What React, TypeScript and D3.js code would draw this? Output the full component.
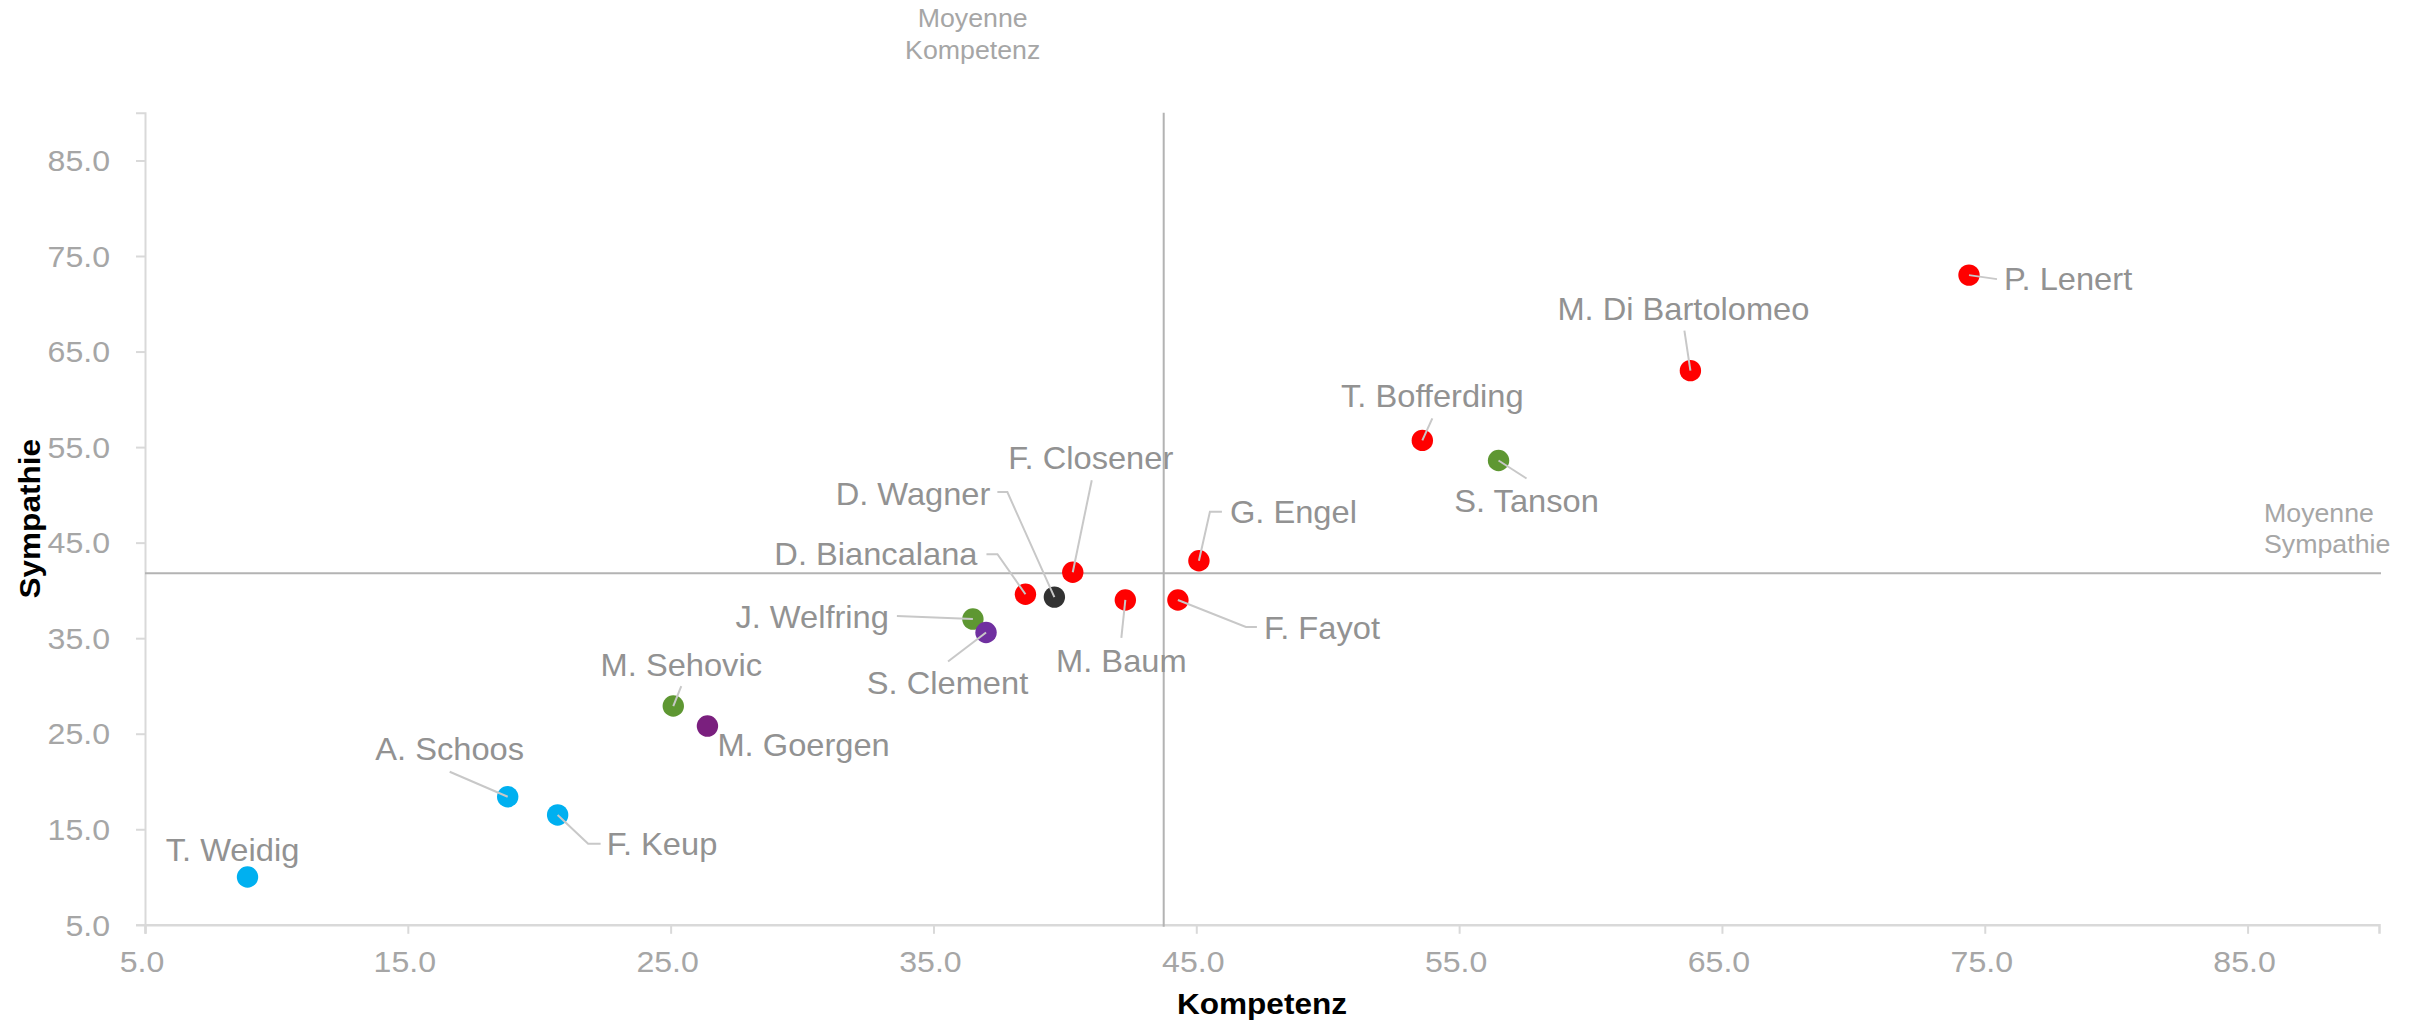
import React, { useEffect, useRef } from "react";
import * as d3 from "d3";

// Politiker, Kompetenz (x) und Sympathie (y)
const names = [
  "P. Lenert", "M. Di Bartolomeo", "T. Bofferding", "S. Tanson", "G. Engel",
  "F. Closener", "D. Wagner", "D. Biancalana", "M. Baum", "F. Fayot",
  "J. Welfring", "S. Clement", "M. Sehovic", "M. Goergen", "A. Schoos",
  "F. Keup", "T. Weidig",
];
const kompetenz = [74.4, 63.8, 53.6, 56.5, 45.1, 40.3, 39.6, 38.5, 42.3, 44.3, 36.5, 37.0, 25.1, 26.4, 18.8, 20.7, 8.9];
const sympathie = [73.0, 63.0, 55.7, 53.6, 43.1, 41.9, 39.3, 39.6, 39.0, 39.0, 37.0, 35.6, 27.9, 25.8, 18.4, 16.5, 10.0];
const groups = [
  "red", "red", "red", "green", "red", "red", "black", "red", "red", "red",
  "green", "purple", "green", "plum", "blue", "blue", "blue",
];
const groupKeys = ["red", "green", "black", "purple", "plum", "blue"];
const groupColors = ["#ff0000", "#5e9732", "#323232", "#7030a0", "#7a1f7e", "#00b0f0"];

const meanKompetenz = 43.76;
const meanSympathie = 41.8;
const tickValues = [5, 15, 25, 35, 45, 55, 65, 75, 85];

// label placement relative to each point (px): text offset, anchor, leader polyline
const labelLayout = [
  { dx: 35, dy: 15, anchor: "start", leader: [[0, 0], [28, 4]] },
  { dx: -7, dy: -51, anchor: "middle", leader: [[0, 0], [-6, -40]] },
  { dx: 10, dy: -33, anchor: "middle", leader: [[0, 0], [10, -22]] },
  { dx: 28, dy: 52, anchor: "middle", leader: [[0, 0], [28, 18]] },
  { dx: 31, dy: -37.6, anchor: "start", leader: [[0, 0], [11, -49], [23, -49]] },
  { dx: 18, dy: -103, anchor: "middle", leader: [[0, 0], [19, -92]] },
  { dx: -64, dy: -92, anchor: "end", leader: [[0, 0], [-47, -105], [-57, -105]] },
  { dx: -48, dy: -29, anchor: "end", leader: [[0, 0], [-28, -40], [-39, -40]] },
  { dx: -4, dy: 72, anchor: "middle", leader: [[0, 0], [-4, 38]] },
  { dx: 86, dy: 39, anchor: "start", leader: [[0, 0], [68, 27], [79, 27]] },
  { dx: -84, dy: 9, anchor: "end", leader: [[0, 0], [-76, -3]] },
  { dx: -38.5, dy: 62, anchor: "middle", leader: [[0, 0], [-38, 29]] },
  { dx: 8, dy: -30, anchor: "middle", leader: [[0, 0], [8, -20]] },
  { dx: 10, dy: 30, anchor: "start", leader: null },
  { dx: -58, dy: -37, anchor: "middle", leader: [[0, 0], [-58, -25]] },
  { dx: 49, dy: 40, anchor: "start", leader: [[0, 0], [30.5, 28.7], [43, 28.7]] },
  { dx: -15, dy: -16, anchor: "middle", leader: null },
];

const W = 2420;
const H = 1026;
const FONT = "'Liberation Sans', Arial, sans-serif";
const SX = 1.07;

export default function App() {
  const svgRef = useRef(null);

  useEffect(() => {
    document.body.style.margin = "0";
    const svg = d3.select(svgRef.current);
    svg.selectAll("*").remove();

    const x = d3.scaleLinear().domain([5, 90]).range([145, 2379]);
    const y = d3.scaleLinear().domain([5, 90]).range([924.8, 112.7]);
    const color = d3.scaleOrdinal().domain(groupKeys).range(groupColors);
    const fmt = d3.format(".1f");

    const addText = (tx, ty, str, size, fill, anchor = "start", weight = "normal", rot = 0) =>
      svg.append("text")
        .attr("transform", `translate(${tx},${ty})${rot ? ` rotate(${rot})` : ""} scale(${SX},1)`)
        .attr("font-family", FONT)
        .attr("font-size", size)
        .attr("font-weight", weight)
        .attr("fill", fill)
        .attr("text-anchor", anchor)
        .text(str);

    // Achsen
    const yAxis = svg.append("g").attr("transform", `translate(${x(5)},0)`)
      .call(d3.axisLeft(y).tickValues(tickValues).tickSize(9).tickFormat(() => ""));
    yAxis.select(".domain").attr("stroke", "#d9d9d9").attr("stroke-width", 2);
    yAxis.selectAll(".tick line").attr("stroke", "#d9d9d9").attr("stroke-width", 2);

    const xAxis = svg.append("g").attr("transform", `translate(0,${y(5)})`)
      .call(d3.axisBottom(x).tickValues(tickValues).tickSize(9).tickFormat(() => ""));
    xAxis.select(".domain").attr("stroke", "#d9d9d9").attr("stroke-width", 2.5);
    xAxis.selectAll(".tick line").attr("stroke", "#d9d9d9").attr("stroke-width", 2);

    tickValues.forEach((t) => {
      addText(110, y(t) + 10.7, fmt(t), 30, "#a6a6a6", "end");
      addText(x(t) - 3, 972, fmt(t), 30, "#a6a6a6", "middle");
    });

    addText((x(5) + x(90)) / 2, 1014, "Kompetenz", 29.5, "#000", "middle", "bold");
    addText(40, (y(5) + y(90)) / 2, "Sympathie", 29.5, "#000", "middle", "bold", -90);

    // Mittelwerte
    svg.append("line")
      .attr("x1", x(meanKompetenz)).attr("x2", x(meanKompetenz))
      .attr("y1", y(90)).attr("y2", y(5) + 2)
      .attr("stroke", "#b3b3b3").attr("stroke-width", 2);
    svg.append("line")
      .attr("x1", x(5)).attr("x2", x(90) + 2)
      .attr("y1", y(meanSympathie)).attr("y2", y(meanSympathie))
      .attr("stroke", "#b3b3b3").attr("stroke-width", 2);

    addText(972.7, 26.7, "Moyenne", 25, "#a6a6a6", "middle");
    addText(972.7, 59, "Kompetenz", 25, "#a6a6a6", "middle");
    addText(2264, 521.7, "Moyenne", 25, "#a6a6a6", "start");
    addText(2264, 552.7, "Sympathie", 25, "#a6a6a6", "start");

    // Punkte
    svg.append("g").selectAll("circle")
      .data(names)
      .enter()
      .append("circle")
      .attr("cx", (d, i) => x(kompetenz[i]))
      .attr("cy", (d, i) => y(sympathie[i]))
      .attr("r", 10.7)
      .attr("fill", (d, i) => color(groups[i]));

    // Leader lines
    const line = d3.line();
    names.forEach((n, i) => {
      const l = labelLayout[i];
      if (!l.leader) return;
      const px = x(kompetenz[i]);
      const py = y(sympathie[i]);
      svg.append("path")
        .attr("d", line(l.leader.map(([a, b]) => [px + a, py + b])))
        .attr("fill", "none")
        .attr("stroke", "#c8c8c8")
        .attr("stroke-width", 2);
    });

    // Etiketten
    names.forEach((n, i) => {
      const l = labelLayout[i];
      addText(x(kompetenz[i]) + l.dx, y(sympathie[i]) + l.dy, n, 30.5, "#929292", l.anchor);
    });
  }, []);

  return <svg ref={svgRef} width={W} height={H} style={{ display: "block" }}></svg>;
}
